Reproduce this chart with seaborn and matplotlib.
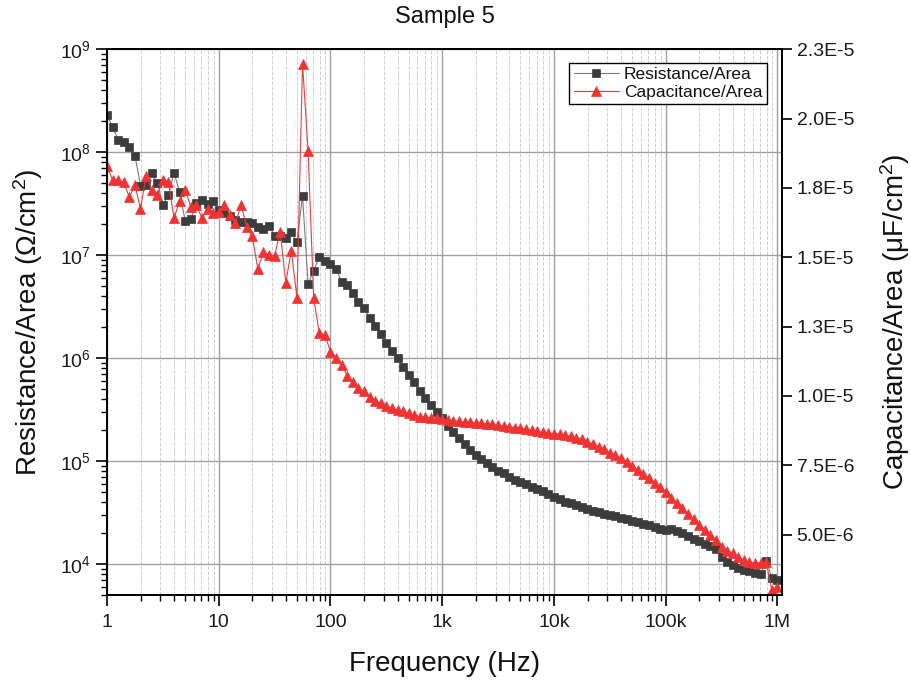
import numpy as np
import matplotlib
matplotlib.use("Agg")
import matplotlib.pyplot as plt
import matplotlib.ticker as mticker
import seaborn as sns

# frequency sweep: 20 points per decade, 1 Hz .. 1 MHz
freq = np.logspace(0, 6, 121)

# Resistance/Area (Ohm/cm^2)
resistance = [
    2.30e8, 1.77e8, 1.32e8, 1.27e8, 1.13e8, 9.3e7, 4.74e7, 4.8e7, 6.25e7, 5.07e7,
    3.08e7, 3.85e7, 6.34e7, 4.09e7, 2.15e7, 2.25e7, 3.2e7, 3.44e7, 3.13e7, 3.37e7,
    2.75e7, 2.59e7, 2.42e7, 2.2e7, 2.08e7, 2.12e7, 2.05e7, 1.9e7, 1.8e7, 1.94e7,
    1.55e7, 1.52e7, 1.48e7, 1.67e7, 1.34e7, 3.77e7, 5.26e6, 7.08e6, 9.7e6, 8.8e6,
    8.18e6, 7.31e6, 5.54e6, 5.15e6, 4.28e6, 3.55e6, 3.06e6, 2.48e6, 2.06e6, 1.71e6,
    1.4e6, 1.18e6, 1.0e6, 8.28e5, 6.89e5, 5.85e5, 4.84e5, 4.14e5, 3.52e5, 3.03e5,
    2.61e5, 2.2e5, 1.9e5, 1.67e5, 1.47e5, 1.29e5, 1.15e5, 1.04e5, 9.57e4, 8.75e4,
    8.1e4, 7.64e4, 7.08e4, 6.58e4, 6.2e4, 5.98e4, 5.66e4, 5.38e4, 5.07e4, 4.82e4,
    4.5e4, 4.31e4, 4.03e4, 3.94e4, 3.77e4, 3.62e4, 3.44e4, 3.31e4, 3.2e4, 3.08e4,
    3.01e4, 2.9e4, 2.8e4, 2.71e4, 2.63e4, 2.56e4, 2.46e4, 2.37e4, 2.29e4, 2.2e4,
    2.14e4, 2.19e4, 2.1e4, 2.0e4, 1.88e4, 1.76e4, 1.66e4, 1.57e4, 1.48e4, 1.4e4,
    1.17e4, 1.04e4, 9.7e3, 9.14e3, 8.8e3, 8.47e3, 8.18e3, 8.05e3, 1.08e4, 7.31e3,
    7.05e3,
]

# Capacitance/Area in units of 1e-6
capacitance_e6 = [
    18.29, 17.79, 17.77, 17.70, 17.17, 17.61, 16.75, 17.94, 17.43, 17.23,
    17.79, 17.72, 16.41, 17.03, 17.44, 16.82, 16.88, 16.41, 16.75, 16.61,
    16.62, 16.90, 16.53, 16.22, 16.90, 16.10, 15.75, 14.59, 15.18, 15.08,
    15.06, 15.92, 14.09, 15.24, 13.54, 21.98, 18.85, 13.52, 12.28, 12.20,
    11.60, 11.36, 11.12, 10.72, 10.52, 10.28, 10.16, 9.97, 9.82, 9.74,
    9.65, 9.56, 9.50, 9.46, 9.38, 9.31, 9.25, 9.23, 9.22, 9.20,
    9.16, 9.13, 9.11, 9.09, 9.06, 9.05, 9.03, 9.02, 8.99, 8.97,
    8.94, 8.92, 8.89, 8.86, 8.83, 8.80, 8.76, 8.73, 8.69, 8.67,
    8.64, 8.62, 8.58, 8.55, 8.50, 8.45, 8.35, 8.27, 8.17, 8.08,
    7.95, 7.87, 7.75, 7.63, 7.48, 7.33, 7.18, 7.03, 6.87, 6.71,
    6.53, 6.33, 6.15, 5.95, 5.74, 5.55, 5.35, 5.17, 4.99, 4.81,
    4.56, 4.42, 4.33, 4.20, 4.08, 4.00, 3.97, 3.99, 4.00, 3.00,
    3.12,
]
capacitance = np.array(capacitance_e6) * 1e-6

xtick_vals = [1, 10, 100, 1e3, 1e4, 1e5, 1e6]
xtick_labels = ["1", "10", "100", "1k", "10k", "100k", "1M"]
cap_ticks = [5.0e-6, 7.5e-6, 1.0e-5, 1.25e-5, 1.5e-5, 1.75e-5, 2.0e-5, 2.25e-5]

sns.set_theme(style="white")
plt.rcParams["font.family"] = ["Liberation Sans", "DejaVu Sans"]
plt.rcParams["mathtext.fontset"] = "custom"
plt.rcParams["mathtext.rm"] = "Liberation Sans"
plt.rcParams["mathtext.it"] = "Liberation Sans:italic"
plt.rcParams["mathtext.bf"] = "Liberation Sans:bold"
plt.rcParams["text.color"] = "#111111"
plt.rcParams["axes.labelcolor"] = "#111111"

fig = plt.figure(figsize=(9.12, 6.87), dpi=100)
ax = fig.add_axes([0.1173, 0.1339, 0.7402, 0.7943])
ax2 = ax.twinx()

sns.lineplot(x=freq, y=resistance, ax=ax, color="#7a7a7a", lw=0.8,
             marker="s", markersize=5.5, markerfacecolor="#3c3c3c",
             markeredgecolor="#3c3c3c", markeredgewidth=0.5, legend=False)
sns.lineplot(x=freq, y=capacitance, ax=ax2, color="#e04040", lw=0.8,
             marker="^", markersize=7.5, markerfacecolor="#ee3333",
             markeredgecolor="#ee3333", markeredgewidth=0.5, legend=False)

ax.set_xscale("log")
ax.set_yscale("log")
ax.set_xlim(1, 1.1e6)
ax.set_ylim(5e3, 1e9)
ax2.set_ylim(2.82e-6, 2.25e-5)

ax.set_xticks(xtick_vals, xtick_labels)
ax.xaxis.set_minor_locator(mticker.LogLocator(base=10, subs=np.arange(2, 10), numticks=20))
ax.xaxis.set_minor_formatter(mticker.NullFormatter())
ax.yaxis.set_major_locator(mticker.LogLocator(base=10, numticks=10))
ax.yaxis.set_minor_locator(mticker.LogLocator(base=10, subs=np.arange(2, 10), numticks=20))
ax.yaxis.set_minor_formatter(mticker.NullFormatter())


def sci_fmt(v, pos):
    e = int(np.floor(np.log10(v) + 1e-9))
    m = np.floor(v / 10 ** e * 10 + 0.5 + 1e-6) / 10
    return f"{m:.1f}E{e}"


ax2.set_yticks(cap_ticks)
ax2.yaxis.set_major_formatter(mticker.FuncFormatter(sci_fmt))

ax.set_axisbelow(True)
ax.grid(which="major", axis="both", color="#a0a0a0", lw=1.0)
ax.grid(which="minor", axis="x", color="#cfcfcf", ls="--", lw=0.7)
ax2.grid(False)

for a in (ax, ax2):
    for s in a.spines.values():
        s.set_color("black")
        s.set_linewidth(1.3)

ax.tick_params(axis="both", which="major", bottom=True, left=True, direction="out",
               length=8, width=1.2, color="black", labelsize=14, labelcolor="#1a1a1a")
ax.tick_params(axis="both", which="minor", bottom=True, left=True, direction="out",
               length=4, width=1.0, color="black")
ax.tick_params(axis="x", which="major", pad=6)
ax.tick_params(axis="y", which="both", right=False)
ax2.tick_params(axis="y", which="major", right=True, direction="out", length=7,
                width=1.2, color="black", labelsize=14, labelcolor="#1a1a1a")

ax.set_title("Sample 5", fontsize=17, pad=19)
ax.set_xlabel("Frequency (Hz)", fontsize=20)
ax.set_ylabel("Resistance/Area (\u03a9/cm$^2$)", fontsize=20)
ax2.set_ylabel("Capacitance/Area (\u03bcF/cm$^2$)", fontsize=20)
ax.xaxis.set_label_coords(0.5, -0.103)
ax.yaxis.set_label_coords(-0.092, 0.5)
ax2.yaxis.set_label_coords(1.143, 0.5)

handles = [ax.lines[0], ax2.lines[0]]
leg = ax2.legend(handles, ["Resistance/Area", "Capacitance/Area"], loc="upper right",
                 bbox_to_anchor=(0.985, 0.985), frameon=True, fancybox=False,
                 edgecolor="black", framealpha=1, fontsize=12.5, handlelength=2.6,
                 borderpad=0.25, labelspacing=0.15, handletextpad=0.3, borderaxespad=0.3)
leg.get_frame().set_linewidth(1.0)

fig.savefig("out.png", dpi=100)
